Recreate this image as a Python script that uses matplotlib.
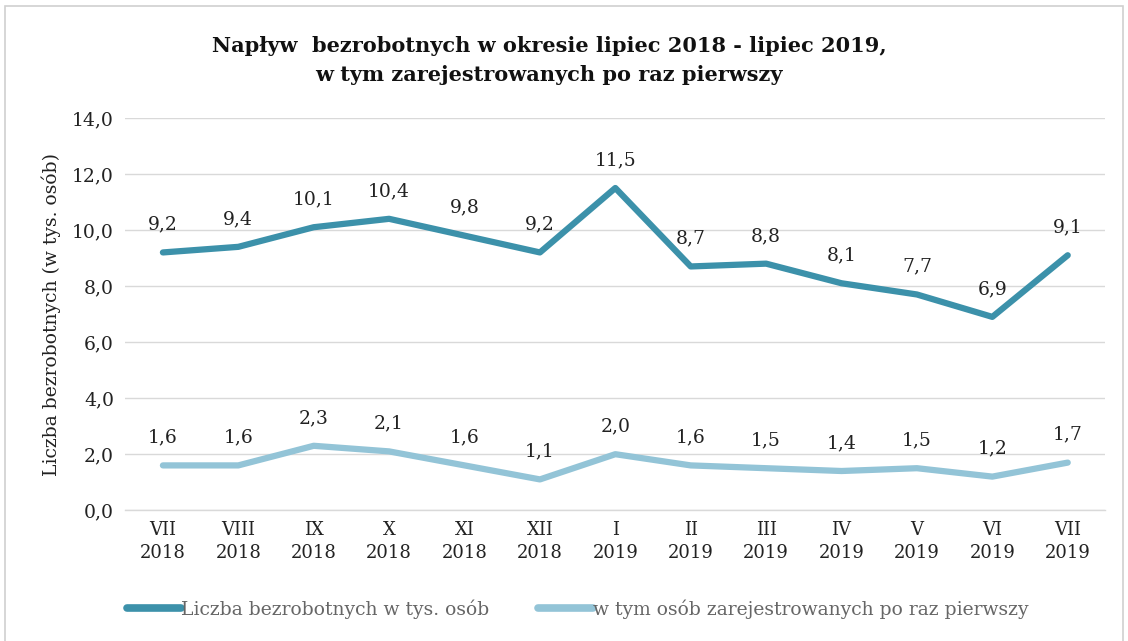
import matplotlib
matplotlib.use("Agg")
import matplotlib.pyplot as plt
from matplotlib.patches import Rectangle

months = ["VII\n2018", "VIII\n2018", "IX\n2018", "X\n2018", "XI\n2018", "XII\n2018",
          "I\n2019", "II\n2019", "III\n2019", "IV\n2019", "V\n2019", "VI\n2019", "VII\n2019"]
total = [9.2, 9.4, 10.1, 10.4, 9.8, 9.2, 11.5, 8.7, 8.8, 8.1, 7.7, 6.9, 9.1]
first_time = [1.6, 1.6, 2.3, 2.1, 1.6, 1.1, 2.0, 1.6, 1.5, 1.4, 1.5, 1.2, 1.7]
yticks = [0, 2, 4, 6, 8, 10, 12, 14]

plt.rcParams['font.family'] = ['DejaVu Serif', 'Liberation Serif']

dark = "#3C91AA"
light = "#93C4D7"
txt = "#222222"

fig = plt.figure(figsize=(11.28, 6.41), dpi=100)
fig.patch.set_facecolor("white")
fig.add_artist(Rectangle((0.004, -0.01), 0.992, 1.0, transform=fig.transFigure,
                         fill=False, edgecolor="#D0D0D0", linewidth=1.2))

ax = fig.add_axes([0.111, 0.204, 0.869, 0.612])
x = list(range(len(months)))
ax.plot(x, total, color=dark, linewidth=4.5, solid_capstyle="round", solid_joinstyle="round",
        label="Liczba bezrobotnych w tys. osób")
ax.plot(x, first_time, color=light, linewidth=4.5, solid_capstyle="round", solid_joinstyle="round",
        label="w tym osób zarejestrowanych po raz pierwszy")

for series in (total, first_time):
    for xi, v in zip(x, series):
        ax.annotate(f"{v:.1f}".replace(".", ","), (xi, v), xytext=(0, 20), textcoords="offset points",
                    ha="center", va="center", fontsize=13.5, color=txt)

ax.set_xlim(-0.5, len(months) - 0.5)
ax.set_ylim(0, 14)
ax.set_yticks(yticks)
ax.set_yticklabels([f"{t:.1f}".replace(".", ",") for t in yticks], fontsize=13.5, color=txt)
ax.set_xticks(x)
ax.set_xticklabels(months, fontsize=13, color=txt, linespacing=1.3)
ax.tick_params(axis="both", length=0, pad=8)
ax.grid(axis="y", color="#D9D9D9", linewidth=1)
ax.set_axisbelow(True)
for s in ["top", "right", "left"]:
    ax.spines[s].set_visible(False)
ax.spines["bottom"].set_color("#D9D9D9")
ax.spines["bottom"].set_linewidth(1)
ax.set_ylabel("Liczba bezrobotnych (w tys. osób)", fontsize=13.5, color=txt, labelpad=8)

fig.text(0.487, 0.905, "Napływ  bezrobotnych w okresie lipiec 2018 - lipiec 2019,\nw tym zarejestrowanych po raz pierwszy",
         ha="center", va="center", fontsize=15, fontweight="bold", color="#111111", linespacing=1.55)

leg = fig.legend(loc="center", bbox_to_anchor=(0.512, 0.05), ncol=2, frameon=False, fontsize=13.5,
                 labelcolor="#666666", handlelength=2.9, handletextpad=0.0, columnspacing=2.6)
for h in leg.legend_handles:
    h.set_linewidth(5.5)
    h.set_solid_capstyle("round")

fig.savefig("out.png", dpi=100, facecolor="white")
